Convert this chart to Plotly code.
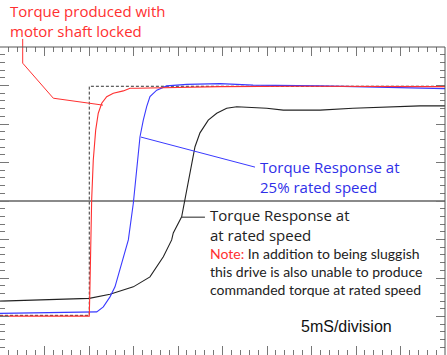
import plotly.graph_objects as go

# ---- data (time in ms, torque in vertical divisions; 0 = centre line) ----
cmd_t = [0, 10.03, 10.03, 50]
cmd_v = [-2.97, -2.97, 2.98, 2.98]

locked_t = [0, 10.03, 10.10, 10.19, 10.30, 10.48, 10.75, 11.04, 11.43, 11.99, 12.73,
            13.85, 14.27, 14.61, 15.39, 18.73, 24.72, 33.71, 50]
locked_v = [-2.99, -2.99, -2.31, -1.01, 0.03, 1.06, 1.84, 2.28, 2.54, 2.71, 2.80,
            2.86, 2.90, 2.93, 2.93, 2.95, 2.97, 2.98, 2.97]

slow_t = [0, 10.03, 10.87, 11.61, 12.36, 12.92, 13.48, 14.04, 14.42, 14.98, 15.36,
          15.73, 16.10, 16.48, 16.85, 17.61, 18.73, 20.98, 24.72, 28.43, 35.96,
          39.66, 43.45, 49.63, 50]
slow_v = [-2.92, -2.90, -2.88, -2.75, -2.49, -2.23, -1.79, -1.36, -1.01, -0.06, 0.81,
          1.67, 2.10, 2.45, 2.71, 2.88, 2.99, 3.03, 3.05, 3.01, 2.99,
          2.97, 2.95, 2.93, 2.92]

rated_t = [0, 3.71, 10.03, 12.36, 14.98, 16.85, 18.35, 19.29, 19.47, 20.41, 20.79,
           21.16, 21.54, 21.91, 22.47, 23.40, 24.35, 25.47, 26.60, 28.09, 29.97,
           31.83, 35.96, 39.66, 43.45, 47.19, 50]
rated_v = [-2.60, -2.57, -2.53, -2.42, -2.23, -1.97, -1.45, -1.01, -0.83, -0.41, 0.03,
           0.47, 0.99, 1.41, 1.77, 2.10, 2.28, 2.41, 2.45, 2.43, 2.41,
           2.36, 2.36, 2.41, 2.45, 2.47, 2.47]

# leader lines (ms, divisions)
red_leader_t = [2.55, 2.55, 5.99, 11.57]
red_leader_v = [4.21, 3.58, 2.67, 2.49]
blue_leader_t = [15.84, 28.65]
blue_leader_v = [1.66, 0.88]
black_leader_t = [20.45, 23.03]
black_leader_v = [-0.42, -0.42]

X0, X1, Y0, Y1 = 0, 50, -4, 4
W, H = 447, 355
ML, MR, MT, MB = 0, 1.5, 47, 0
PW, PH = W - ML - MR, H - MT - MB


def px(t):
    return (t - X0) / (X1 - X0)


def py(v):
    return (v - Y0) / (Y1 - Y0)


def path(ts, vs):
    return "M " + " L ".join(f"{px(t)},{py(v)}" for t, v in zip(ts, vs))


RED = "#ff3030"
BLUE = "#3a3aff"
BLACK = "#222222"

fig = go.Figure()
fig.add_trace(go.Scatter(x=cmd_t, y=cmd_v, mode="lines",
                         line=dict(color="#333333", width=1, dash="3px,2px")))
fig.add_trace(go.Scatter(x=rated_t, y=rated_v, mode="lines",
                         line=dict(color=BLACK, width=1.1)))
fig.add_trace(go.Scatter(x=slow_t, y=slow_v, mode="lines",
                         line=dict(color=BLUE, width=1.1)))
fig.add_trace(go.Scatter(x=locked_t, y=locked_v, mode="lines",
                         line=dict(color=RED, width=1.1)))

shapes = [
    dict(type="path", xref="paper", yref="paper", path=path(red_leader_t, red_leader_v),
         line=dict(color=RED, width=1)),
    dict(type="path", xref="paper", yref="paper", path=path(blue_leader_t, blue_leader_v),
         line=dict(color=BLUE, width=1)),
    dict(type="path", xref="paper", yref="paper", path=path(black_leader_t, black_leader_v),
         line=dict(color=BLACK, width=1)),
    # top and right frame
    dict(type="line", xref="paper", yref="paper", x0=0, x1=1, y0=1, y1=1,
         line=dict(color="#555555", width=1)),
    dict(type="line", xref="paper", yref="paper", x0=1, x1=1, y0=0, y1=1,
         line=dict(color="#555555", width=1)),
]


def ann(text, x_px, y_px, color, size, family="Lato"):
    return dict(text=text, xref="paper", yref="paper",
                x=(x_px - ML) / PW, y=(H - MB - y_px) / PH,
                xanchor="left", yanchor="middle", align="left", showarrow=False,
                font=dict(family=family, size=size, color=color))


annotations = [
    ann("Torque produced with<br>motor shaft locked", 8, 21, RED, 15, "Open Sans"),
    ann("Torque Response at<br>25% rated speed", 258, 177, "#2f2fe8", 15, "Open Sans"),
    ann("Torque Response at<br>at rated speed", 208, 225, BLACK, 15, "Open Sans"),
    ann(f"<span style='color:{RED}'>Note:</span> In addition to being sluggish<br>"
        "this drive is also unable to produce<br>"
        "commanded torque at rated speed", 208, 271.5, BLACK, 14, "Lato"),
    ann("5mS/division", 299, 326, "#111111", 16, "Liberation Sans"),
]

axis_common = dict(showgrid=False, showticklabels=False, ticks="inside",
                   ticklen=9, tickwidth=1, tickcolor="#777777", mirror="ticks",
                   showline=False, fixedrange=True)

fig.update_layout(
    width=W, height=H,
    margin=dict(l=ML, r=MR, t=MT, b=MB, pad=0),
    paper_bgcolor="white", plot_bgcolor="white",
    showlegend=False,
    xaxis=dict(range=[X0, X1], dtick=5, tick0=0, zeroline=False,
               minor=dict(dtick=1, ticklen=5, ticks="inside", tickcolor="#777777", showgrid=False),
               **axis_common),
    yaxis=dict(range=[Y0, Y1], dtick=1, tick0=0, zeroline=True,
               zerolinecolor="#8a8a8a", zerolinewidth=1.5,
               minor=dict(dtick=0.2, ticklen=5, ticks="inside", tickcolor="#777777", showgrid=False),
               **axis_common),
    shapes=shapes,
    annotations=annotations,
)

fig.write_html("out.html", config={"displayModeBar": False},
               post_script="document.body.style.margin='0px';")
